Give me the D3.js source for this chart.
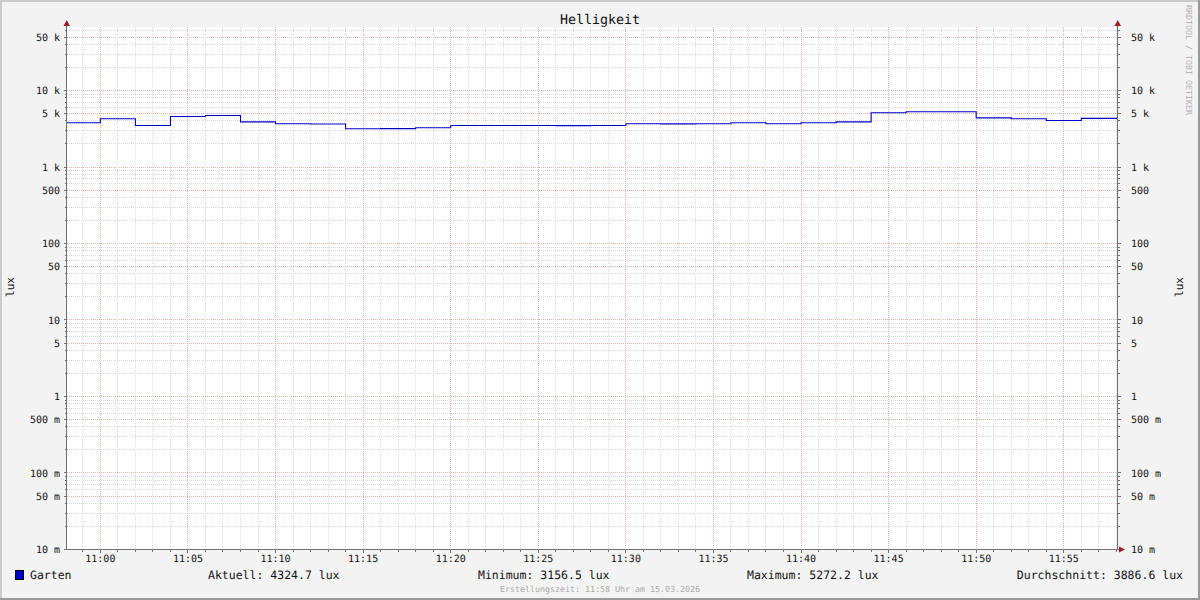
<!DOCTYPE html>
<html>
<head>
<meta charset="utf-8">
<script src="https://cdn.jsdelivr.net/npm/d3@7"></script>
<style>
  html, body { margin: 0; padding: 0; background: #F3F3F3; }
  svg { display: block; font-family: "DejaVu Sans Mono", monospace; text-rendering: geometricPrecision; }
</style>
</head>
<body>
<svg id="chart" width="1200" height="600"></svg>
<script>
// ---------- data ----------
const title = "Helligkeit";
const unitLabel = "lux";
const seriesName = "Garten";
// sample start times (every 2 minutes), value holds until the next sample
const sampleTimes = [
  "10:58","11:00","11:02","11:04","11:06","11:08","11:10","11:12","11:14","11:16",
  "11:18","11:20","11:22","11:24","11:26","11:28","11:30","11:32","11:34","11:36",
  "11:38","11:40","11:42","11:44","11:46","11:48","11:50","11:52","11:54","11:56"
];
const luxValues = [
  3782, 4265, 3485, 4571, 4710, 3895, 3668, 3650, 3156.5, 3170,
  3253, 3485, 3480, 3490, 3475, 3488, 3668, 3660, 3670, 3782,
  3668, 3782, 3895, 5110, 5272.2, 5265, 4390, 4265, 4053, 4324.7
];
const yTickValues = [0.01, 0.05, 0.1, 0.5, 1, 5, 10, 50, 100, 500, 1000, 5000, 10000, 50000];
const yTickLabels = ["10 m","50 m","100 m","500 m","1","5","10","50","100","500","1 k","5 k","10 k","50 k"];
const xTickLabels = ["11:00","11:05","11:10","11:15","11:20","11:25","11:30","11:35","11:40","11:45","11:50","11:55"];
const legendItems = [
  { label: "Aktuell:", value: "4324.7 lux" },
  { label: "Minimum:", value: "3156.5 lux" },
  { label: "Maximum:", value: "5272.2 lux" },
  { label: "Durchschnitt:", value: "3886.6 lux" }
];
const footerText = "Erstellungszeit: 11:58 Uhr am 15.03.2026";
const watermark = "RRDTOOL / TOBI OETIKER";

// ---------- setup ----------
const svg = d3.select("#chart");
const W = 1200, H = 600;
const parseT = s => { const [h, m] = s.split(":").map(Number); return new Date(2026, 2, 15, h, m, 0); };
const tStart = new Date(2026, 2, 15, 10, 58, 4);
const tEnd = new Date(2026, 2, 15, 11, 58, 4);

const pL = 66.5, pR = 1117.5, pT = 27.5, pB = 549.5;
const x = d3.scaleTime().domain([tStart, tEnd]).range([pL, pR]);
const yTop = Math.pow(10, 4 + 63 / 76.5);
const y = d3.scaleLog().domain([0.01, yTop]).range([pB, pT]);

const snap = v => Math.round(v - 0.5) + 0.5;

// background & frame
svg.append("rect").attr("x", 0).attr("y", 0).attr("width", W).attr("height", H).attr("fill", "#F3F3F3");
svg.append("rect").attr("x", 0).attr("y", 0).attr("width", W).attr("height", 2).attr("fill", "#CBCBCB");
svg.append("rect").attr("x", 0).attr("y", 0).attr("width", 2).attr("height", H).attr("fill", "#CBCBCB");
svg.append("rect").attr("x", 0).attr("y", H - 2).attr("width", W).attr("height", 2).attr("fill", "#999999");
svg.append("rect").attr("x", W - 2).attr("y", 0).attr("width", 2).attr("height", H).attr("fill", "#999999");

// plot canvas
svg.append("rect").attr("x", 67).attr("y", 27).attr("width", 1050).attr("height", 522).attr("fill", "#FFFFFF");

const grid = svg.append("g");
const minorCol = "#dadada", majorCol = "#eab0b0";

// horizontal grid (log)
const yMinor = [];
for (let k = -2; k <= 4; k++) {
  for (let m = 1; m <= 9; m++) {
    const v = m * Math.pow(10, k);
    if (v >= 0.01 && v <= yTop) yMinor.push({ v, major: (m === 1 || m === 5) });
  }
}
yMinor.filter(d => d.v > 0.01).forEach(d => {
  const yy = snap(y(d.v));
  grid.append("line").attr("x1", 67).attr("x2", 1117).attr("y1", yy).attr("y2", yy)
    .attr("stroke", d.major ? majorCol : minorCol).attr("stroke-width", 1)
    .attr("stroke-dasharray", "1,1").attr("shape-rendering", "crispEdges");
});
// vertical grid (minutes)
const minutes = d3.timeMinute.range(d3.timeMinute.ceil(tStart), tEnd);
minutes.forEach(t => {
  const xx = snap(x(t));
  const major = t.getMinutes() % 5 === 0;
  grid.append("line").attr("x1", xx).attr("x2", xx).attr("y1", 27).attr("y2", 549)
    .attr("stroke", major ? majorCol : minorCol).attr("stroke-width", 1)
    .attr("stroke-dasharray", "1,1").attr("shape-rendering", "crispEdges");
});

// data line
const data = sampleTimes.map((s, i) => ({ t: parseT(s), v: luxValues[i] }));
data.push({ t: tEnd, v: luxValues[luxValues.length - 1] });
svg.append("clipPath").attr("id", "clip").append("rect")
  .attr("x", 67).attr("y", 27).attr("width", 1050).attr("height", 522);
const line = d3.line().x(d => x(d.t)).y(d => y(d.v)).curve(d3.curveStepAfter);
svg.append("path").datum(data).attr("d", line).attr("clip-path", "url(#clip)")
  .attr("fill", "none").attr("stroke", "#0000CC").attr("stroke-width", 1.1);

// axes
const axisCol = "#707070";
const axes = svg.append("g").attr("shape-rendering", "crispEdges");
axes.append("line").attr("x1", 66.5).attr("x2", 66.5).attr("y1", 24).attr("y2", 549.5).attr("stroke", axisCol);
axes.append("line").attr("x1", 1117.5).attr("x2", 1117.5).attr("y1", 24).attr("y2", 549.5).attr("stroke", axisCol);
axes.append("line").attr("x1", 64).attr("x2", 1121).attr("y1", 549.5).attr("y2", 549.5).attr("stroke", axisCol);
// y ticks
yMinor.forEach(d => {
  const yy = snap(y(d.v));
  const len = d.major ? 3 : 2;
  axes.append("line").attr("x1", 66.5 - len).attr("x2", 66.5).attr("y1", yy).attr("y2", yy).attr("stroke", axisCol);
  axes.append("line").attr("x1", 1117.5).attr("x2", 1117.5 + len).attr("y1", yy).attr("y2", yy).attr("stroke", axisCol);
});
// x ticks
minutes.forEach(t => {
  const xx = snap(x(t));
  const len = t.getMinutes() % 5 === 0 ? 3 : 2;
  axes.append("line").attr("x1", xx).attr("x2", xx).attr("y1", 549.5).attr("y2", 549.5 + len).attr("stroke", axisCol);
});
// arrows
const arrowCol = "#a02020";
svg.append("path").attr("d", "M63.5,26 L70,26 L66.75,20 Z").attr("fill", arrowCol);
svg.append("path").attr("d", "M1114.5,26 L1121,26 L1117.75,20 Z").attr("fill", arrowCol);
svg.append("path").attr("d", "M1119,546.5 L1119,552.5 L1125,549.5 Z").attr("fill", arrowCol);

// y labels
const txtCol = "#111";
yTickValues.forEach((v, i) => {
  svg.append("text").attr("x", 60).attr("y", y(v)).attr("dy", "0.35em")
    .attr("text-anchor", "end").attr("font-size", 10).attr("fill", txtCol).text(yTickLabels[i]);
  svg.append("text").attr("x", 1131).attr("y", y(v)).attr("dy", "0.35em")
    .attr("text-anchor", "start").attr("font-size", 10).attr("fill", txtCol).text(yTickLabels[i]);
});
// x labels
const xMajor = minutes.filter(t => t.getMinutes() % 5 === 0);
xMajor.forEach((t, i) => {
  svg.append("text").attr("x", x(t)).attr("y", 562).attr("text-anchor", "middle")
    .attr("font-size", 10).attr("fill", txtCol).text(xTickLabels[i]);
});

// title
svg.append("text").attr("x", 600).attr("y", 24).attr("text-anchor", "middle")
  .attr("font-size", 13.3).attr("fill", txtCol).text(title);

// unit labels
svg.append("text").attr("transform", "translate(14,287) rotate(-90)").attr("text-anchor", "middle")
  .attr("font-size", 11).attr("fill", txtCol).text(unitLabel);
svg.append("text").attr("transform", "translate(1183,287) rotate(-90)").attr("text-anchor", "middle")
  .attr("font-size", 11).attr("fill", txtCol).text(unitLabel);

// watermark
svg.append("text").attr("transform", "translate(1186,5) rotate(90)").attr("text-anchor", "start")
  .attr("font-size", 8.3).attr("fill", "#b4b4b4").text(watermark);

// legend
svg.append("rect").attr("x", 15.5).attr("y", 570.5).attr("width", 8).attr("height", 9)
  .attr("fill", "#0000CC").attr("stroke", "#000").attr("stroke-width", 1);
svg.append("text").attr("x", 30).attr("y", 579).attr("font-size", 11.5).attr("fill", txtCol).text(seriesName);
const legendX = [208, 478, 747, 1183];
legendItems.forEach((d, i) => {
  svg.append("text").attr("x", legendX[i]).attr("y", 579)
    .attr("text-anchor", i === 3 ? "end" : "start")
    .attr("font-size", 11.5).attr("fill", txtCol).text(d.label + " " + d.value);
});

// footer
svg.append("text").attr("x", 600).attr("y", 592).attr("text-anchor", "middle")
  .attr("font-size", 8.3).attr("fill", "#ababab").text(footerText);
</script>
</body>
</html>
